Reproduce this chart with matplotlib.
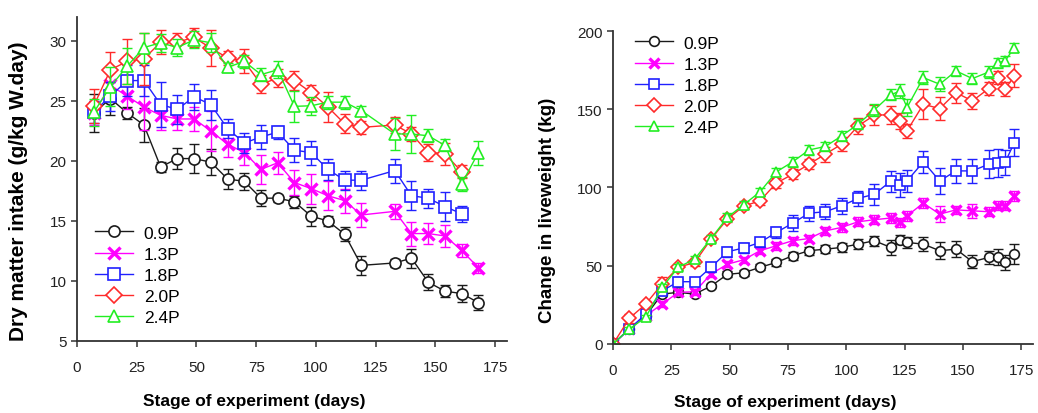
import matplotlib
matplotlib.use("Agg")
import matplotlib.pyplot as plt

plt.rcParams['font.family'] = ['Liberation Sans Narrow', 'Liberation Sans', 'DejaVu Sans']

labels = ["0.9P", "1.3P", "1.8P", "2.0P", "2.4P"]
colors = ["#1a1a1a", "#ff00ff", "#2020ff", "#ff2a2a", "#22ee22"]
markers = ["o", "x", "s", "D", "^"]

# --- dry matter intake (g/kg W.day) ---
dmi_days = [7, 14, 21, 28, 35, 42, 49, 56, 63, 70, 77, 84, 91, 98, 105, 112, 119,
            133, 140, 147, 154, 161, 168]
dmi_09 = [24.0, 25.2, 24.0, 23.0, 19.5, 20.2, 20.2, 19.9, 18.5, 18.3, 16.9, 16.9, 16.6,
          15.4, 15.0, 13.9, 11.3, 11.5, 11.9, 9.9, 9.15, 8.95, 8.2]
dmi_09_se = [1.6, 1.4, 0.5, 1.4, 0.4, 0.9, 1.2, 1.1, 0.8, 0.7, 0.65, 0.3, 0.5,
             0.8, 0.4, 0.6, 0.8, 0.35, 0.8, 0.65, 0.5, 0.7, 0.65]
dmi_13 = [24.0, 26.3, 25.4, 24.5, 23.8, 23.5, 23.5, 22.5, 21.4, 20.7, 19.3, 19.85, 18.2,
          17.7, 17.1, 16.7, 15.5, 15.8, 13.95, 13.95, 13.75, 12.55, 11.1]
dmi_13_se = [1.0, 1.3, 1.1, 1.9, 1.2, 0.9, 1.0, 1.7, 1.1, 1.0, 1.2, 0.9, 1.05,
             1.25, 1.2, 1.0, 1.0, 0.6, 1.0, 0.9, 0.9, 0.55, 0.4]
dmi_days_b = dmi_days[:-1]
dmi_18 = [24.1, 25.4, 26.7, 26.7, 24.7, 24.3, 25.35, 24.7, 22.7, 21.5, 22.0, 22.4, 20.9,
          20.7, 19.3, 18.4, 18.4, 19.2, 17.1, 16.9, 16.2, 15.6]
dmi_18_se = [0.9, 1.2, 1.3, 1.3, 1.9, 1.2, 1.1, 1.25, 0.8, 0.8, 1.0, 0.55, 1.0,
             1.0, 0.9, 0.8, 0.8, 1.0, 1.2, 0.8, 1.2, 0.65]
dmi_20 = [24.6, 27.6, 28.3, 28.5, 29.9, 29.9, 30.3, 29.4, 28.6, 28.3, 26.4, 26.9, 26.7,
          25.7, 24.5, 23.1, 22.8, 23.0, 22.25, 20.7, 20.6, 19.1]
dmi_20_se = [1.4, 1.5, 1.9, 2.2, 1.0, 0.75, 0.8, 1.5, 0.6, 1.0, 0.75, 0.75, 0.8,
             0.6, 1.25, 0.8, 0.55, 0.7, 0.6, 0.7, 0.9, 0.55]
dmi_24 = [24.05, 26.2, 27.9, 29.45, 29.85, 29.45, 30.1, 29.85, 27.8, 28.3, 27.2, 27.6, 24.55,
          24.6, 24.9, 24.9, 24.2, 22.25, 22.25, 22.1, 21.3, 18.1, 20.7]
dmi_24_se = [1.1, 1.6, 1.5, 1.25, 0.75, 0.7, 0.7, 0.8, 0.35, 0.55, 0.55, 0.7, 1.3,
             0.75, 0.55, 0.55, 0.4, 1.3, 1.6, 0.55, 0.5, 0.6, 1.0]

# --- change in liveweight (kg) ---
lw_days = [0, 7, 14, 21, 28, 35, 42, 49, 56, 63, 70, 77, 84, 91, 98, 105, 112, 119,
           123, 126, 133, 140, 147, 154, 161, 165, 168, 172]
lw_09 = [0, 9.6, 18.0, 31.9, 33.0, 31.9, 37.0, 44.5, 45.5, 49.0, 52.1, 56.4, 59.6, 60.6,
         61.7, 63.8, 66.0, 61.7, 66.6, 64.9, 63.8, 59.6, 60.6, 52.6, 55.3, 55.3, 52.1, 57.4]
lw_09_se = [0, 1, 1, 1.5, 1.5, 1.5, 1.5, 2, 2, 2, 2, 2.5, 2.5, 2.5,
            3, 3.2, 3.2, 5.0, 3, 3.4, 4.3, 5.3, 5.1, 4.3, 4.3, 5.1, 4.8, 6.4]
lw_13 = [0, 9.6, 18.0, 25.5, 33.0, 33.4, 44.7, 51.0, 53.8, 59.6, 62.8, 66.0, 67.4, 72.3,
         74.5, 78.1, 79.4, 80.5, 77.7, 81.9, 90.0, 83.0, 85.7, 85.1, 84.5, 88.3, 88.3, 94.7]
lw_13_se = [0, 1, 1, 2, 2, 2, 2, 2, 2, 2, 2.5, 2.5, 2.5, 2.5,
            3, 3, 3, 3, 3, 3, 3, 5.3, 2.7, 4.3, 3, 3, 3, 3.2]
lw_18 = [0, 9.6, 19.1, 34.0, 39.8, 39.8, 49.0, 58.9, 61.4, 64.9, 71.3, 77.2, 83.6, 84.5,
         88.3, 93.0, 95.7, 104.0, 101.5, 104.2, 116.4, 104.2, 110.6, 110.6, 114.9, 115.5, 116.0, 128.7]
lw_18_se = [0, 1.5, 2, 3, 2, 2, 3, 3, 3, 3, 3.5, 5, 4.8, 4.8,
            5.3, 4.8, 6.7, 6.6, 7.6, 6.9, 6.9, 8.2, 7.6, 7.6, 8.8, 8.8, 8.0, 8.5]
lw_20 = [0, 16.4, 25.5, 38.3, 49.0, 52.1, 67.0, 79.8, 88.1, 91.5, 102.8, 108.5, 114.9, 121.3,
         127.7, 139.3, 146.2, 146.5, 142.5, 136.2, 153.2, 150.4, 160.6, 155.3, 163.2, 170.2, 162.8, 171.3]
lw_20_se = [0, 2.7, 2, 4.3, 2, 2, 2, 2, 2, 3, 3, 3, 3, 4.8,
            4.3, 5.3, 6.4, 5.8, 5.3, 4.3, 9.6, 7.4, 6.4, 5.3, 4.3, 4.3, 4.3, 7.4]
lw_24 = [0, 9.6, 17.0, 36.2, 49.0, 54.3, 67.4, 80.9, 89.0, 97.2, 110.0, 116.4, 124.0, 126.2,
         133.0, 140.4, 149.6, 159.2, 161.7, 151.1, 170.2, 166.0, 174.5, 169.6, 173.8, 179.8, 180.8, 189.4]
lw_24_se = [0, 1.5, 1.5, 2, 2, 2, 2.5, 2.5, 2.5, 2.5, 2.5, 3, 3, 3,
            3, 3.2, 4, 3.5, 4.3, 5.3, 4.3, 4.3, 3.2, 3.7, 3.7, 3.2, 3.2, 3]

dmi = [(dmi_days, dmi_09, dmi_09_se), (dmi_days, dmi_13, dmi_13_se),
       (dmi_days_b, dmi_18, dmi_18_se), (dmi_days_b, dmi_20, dmi_20_se),
       (dmi_days, dmi_24, dmi_24_se)]
lw = [(lw_days, lw_09, lw_09_se), (lw_days, lw_13, lw_13_se), (lw_days, lw_18, lw_18_se),
      (lw_days, lw_20, lw_20_se), (lw_days, lw_24, lw_24_se)]


def draw_panel(ax, series, ms):
    handles = []
    for (x, y, e), c, m, lab in zip(series, colors, markers, labels):
        ax.errorbar(x, y, yerr=e, fmt='none', ecolor=c, elinewidth=1.0,
                    capsize=3.5, capthick=1.0)
        mew = 2.4 if m == "x" else 1.2
        h, = ax.plot(x, y, color=c, lw=1.0, marker=m, ms=ms, mew=mew,
                     mfc="white" if m != "x" else c, mec=c, label=lab)
        handles.append(h)
    for s in ("top", "right"):
        ax.spines[s].set_visible(False)
    for s in ("left", "bottom"):
        ax.spines[s].set_linewidth(1.3)
        ax.spines[s].set_color("#333333")
    ax.tick_params(direction="out", length=4, width=1.1, colors="#333333",
                   labelsize=11, labelcolor="#222222")
    ax.tick_params(axis="x", pad=10)
    ax.set_xlim(0, 180)
    ax.set_xticks([0, 25, 50, 75, 100, 125, 150, 175])
    ax.set_xlabel("Stage of experiment (days)", fontsize=12.5, fontweight="bold")
    return handles


fig = plt.figure(figsize=(10.38, 4.14), dpi=100)
ax1 = fig.add_axes([0.0742, 0.174, 0.4143, 0.7826])
ax2 = fig.add_axes([0.5906, 0.1667, 0.4046, 0.756])

h1 = draw_panel(ax1, dmi, 8)
ax1.set_ylim(5, 32)
ax1.set_yticks([5, 10, 15, 20, 25, 30])
ax1.set_ylabel("Dry matter intake (g/kg W.day)", fontsize=15, fontweight="bold")
ax1.xaxis.set_label_coords(0.412, -0.162)
ax1.yaxis.set_label_coords(-0.114, 0.466)
ax1.legend(handles=h1, loc="lower left", bbox_to_anchor=(0.042, 0.05), frameon=False,
           fontsize=12.5, handlelength=2.2, handletextpad=0.6, labelspacing=0.34,
           borderpad=0, borderaxespad=0)

h2 = draw_panel(ax2, lw, 7)
ax2.set_ylim(0, 200)
ax2.set_yticks([0, 50, 100, 150, 200])
ax2.set_ylabel("Change in liveweight (kg)", fontsize=13.5, fontweight="bold")
ax2.xaxis.set_label_coords(0.41, -0.159)
ax2.yaxis.set_label_coords(-0.136, 0.431)
ax2.legend(handles=h2, loc="upper left", bbox_to_anchor=(0.052, 0.986), frameon=False,
           fontsize=12.5, handlelength=2.2, handletextpad=0.6, labelspacing=0.34,
           borderpad=0, borderaxespad=0)

fig.savefig("out.png", dpi=100)
